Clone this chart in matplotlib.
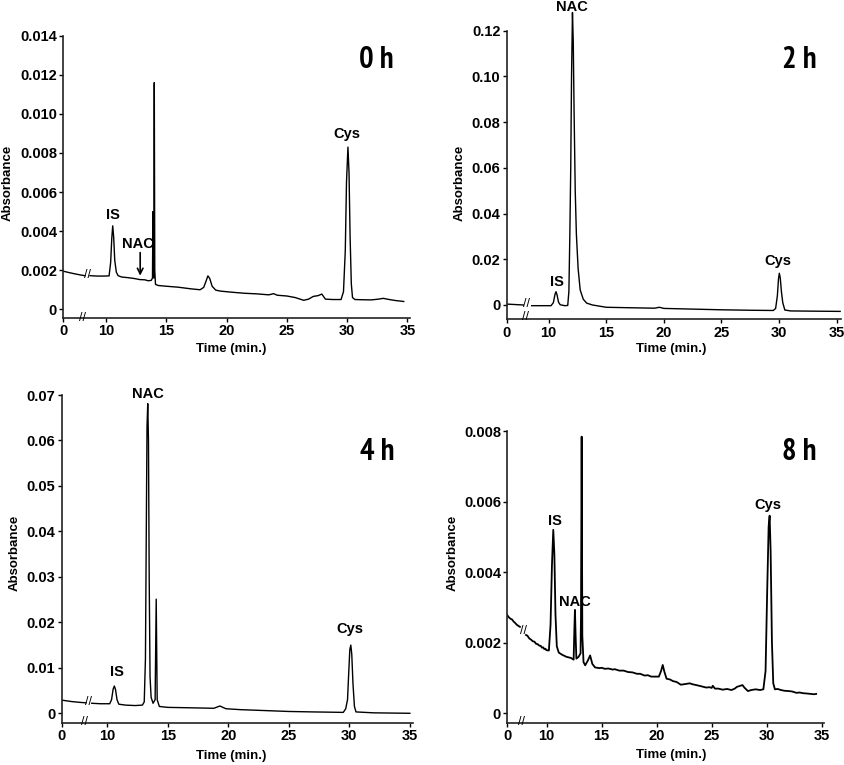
import numpy as np
import matplotlib
matplotlib.use('Agg')
import matplotlib.pyplot as plt
from matplotlib import font_manager
from matplotlib.ticker import NullLocator

nan = np.nan
W, H = 845, 765

# --- chromatogram traces (time in min, absorbance), nan = axis break ---
time_0h = [0, 1.5, 3.0, 4.2, 5.07, nan, 6.25, 8.0, 9.5, 10.25,
           10.38, 10.47, 10.55, 10.63, 10.72, 10.85, 11.0, 11.3, 11.8, 12.3,
           12.8, 13.2, 13.5, 13.75, 13.85, 13.89, 13.93, 13.96, 14.0, 14.04,
           14.1, 14.3, 15.0, 16.0, 17.0, 17.8, 18.1, 18.3, 18.45, 18.6,
           18.8, 19.1, 19.5, 20.5, 21.5, 22.5, 23.5, 23.9, 24.2, 25.0,
           25.7, 26.4, 26.8, 27.2, 27.6, 27.9, 28.2, 28.8, 29.5, 29.7,
           29.85, 29.95, 30.07, 30.16, 30.25, 30.35, 30.45, 30.65, 31.2, 32.0,
           32.6, 33.0, 33.5, 34.0, 34.7]
abs_0h = [0.00195, 0.00187, 0.00180, 0.00175, 0.00172, nan, 0.00172, 0.00170, 0.00170, 0.00171,
          0.0024, 0.0036, 0.00427, 0.0037, 0.0025, 0.0019, 0.00172, 0.00165, 0.00162, 0.00158,
          0.00152, 0.00151, 0.00146, 0.00148, 0.0016, 0.0050, 0.0030, 0.0016, 0.0116, 0.0020,
          0.00128, 0.00122, 0.00118, 0.00113, 0.00105, 0.00100, 0.00112, 0.00145, 0.00171, 0.00158,
          0.00118, 0.00098, 0.00093, 0.00087, 0.00082, 0.00079, 0.00074, 0.00080, 0.00072, 0.00068,
          0.00060, 0.00046, 0.00052, 0.00066, 0.00070, 0.00078, 0.00052, 0.00050, 0.00050, 0.0009,
          0.0030, 0.0065, 0.0083, 0.0070, 0.0037, 0.0013, 0.0006, 0.00050, 0.00049, 0.00048,
          0.00052, 0.00056, 0.00050, 0.00045, 0.00040]

time_2h = [0, 2.0, 3.97, nan, 5.95, 8.0, 10.2, 10.4, 10.55, 10.63,
           10.72, 10.85, 11.0, 11.4, 11.65, 11.75, 11.83, 11.91, 11.98, 12.06,
           12.13, 12.2, 12.3, 12.4, 12.55, 12.73, 13.0, 13.3, 13.8, 15.0,
           17.0, 19.2, 19.6, 20.0, 22.5, 25.0, 27.5, 29.5, 29.7, 29.85,
           29.95, 30.02, 30.1, 30.2, 30.32, 30.5, 31.0, 33.0, 35.3]
abs_2h = [0.0004, 0.0002, 0.0000, nan, -0.0003, -0.0003, -0.0003, 0.0010, 0.0048, 0.0058,
          0.0045, 0.0012, 0.0001, -0.0003, -0.0002, 0.0060, 0.0300, 0.0600, 0.1000, 0.1280,
          0.1150, 0.0850, 0.0500, 0.0310, 0.0160, 0.0066, 0.0025, 0.0008, 0.0000, -0.0010,
          -0.0012, -0.0014, -0.0010, -0.0015, -0.0018, -0.0021, -0.0023, -0.0024, -0.0015, 0.0040,
          0.0115, 0.0139, 0.0120, 0.0060, 0.0010, -0.0022, -0.0026, -0.0027, -0.0028]

time_4h = [0, 2.0, 4.0, 5.33, nan, 6.58, 8.5, 10.2, 10.35, 10.48,
           10.58, 10.68, 10.8, 10.95, 11.5, 12.3, 12.9, 13.05, 13.15, 13.22,
           13.28, 13.34, 13.40, 13.46, 13.53, 13.62, 13.78, 13.95, 14.04, 14.12,
           14.3, 15.0, 17.0, 18.8, 19.3, 19.8, 21.0, 23.0, 25.0, 27.0,
           29.5, 29.7, 29.85, 29.95, 30.04, 30.12, 30.2, 30.3, 30.42, 30.55,
           32.0, 35.0]
abs_4h = [0.0029, 0.0026, 0.0024, 0.0023, nan, 0.0022, 0.0021, 0.0021, 0.0030, 0.0053,
          0.0060, 0.0052, 0.0030, 0.0020, 0.0018, 0.0017, 0.0018, 0.0025, 0.0120, 0.0400,
          0.0630, 0.0681, 0.0600, 0.0300, 0.0080, 0.0035, 0.0022, 0.0030, 0.0251, 0.0030,
          0.0015, 0.0013, 0.0012, 0.0011, 0.0016, 0.0010, 0.0008, 0.0006, 0.0004, 0.0003,
          0.0002, 0.0010, 0.0030, 0.0090, 0.0140, 0.0150, 0.0130, 0.0065, 0.0015, 0.0003,
          0.0001, 0.0000]

time_8h = [0, 0.4, 0.8, 1.2, 1.6, 2.0, 2.4, 2.8, 3.21, nan,
           4.75, 5.1, 5.6, 6.0, 6.5, 6.9, 7.3, 7.7, 8.1, 8.5,
           8.8, 9.1, 9.4, 9.7, 9.9, 10.2, 10.35, 10.48, 10.6, 10.7,
           10.8, 10.92, 11.1, 11.4, 11.8, 12.2, 12.45, 12.52, 12.57, 12.63,
           12.7, 12.9, 13.08, 13.12, 13.18, 13.24, 13.35, 13.5, 13.75, 13.95,
           14.15, 14.4, 14.8, 15.0, 15.3, 15.6, 16.0, 16.2, 16.6, 17.0,
           17.4, 17.8, 18.2, 18.5, 18.9, 19.2, 19.5, 19.8, 20.2, 20.4,
           20.55, 20.7, 20.9, 21.2, 21.5, 21.8, 22.2, 22.6, 23.0, 23.3,
           23.6, 24.0, 24.5, 24.8, 25.0, 25.1, 25.3, 25.6, 26.0, 26.4,
           26.8, 27.1, 27.3, 27.6, 27.8, 28.0, 28.3, 28.6, 29.0, 29.4,
           29.7, 29.9, 30.05, 30.18, 30.27, 30.36, 30.48, 30.6, 30.75, 31.0,
           31.3, 31.6, 32.0, 32.3, 32.7, 33.0, 33.3, 33.7, 34.0, 34.3,
           34.5]
abs_8h = [0.00278, 0.00272, 0.00268, 0.00266, 0.00260, 0.00256, 0.00251, 0.00248, 0.00245, nan,
          0.00222, 0.00220, 0.00212, 0.00209, 0.00204, 0.00203, 0.00197, 0.00196, 0.00192, 0.00191,
          0.00186, 0.00187, 0.00182, 0.00183, 0.00179, 0.00178, 0.0025, 0.0042, 0.0052, 0.0045,
          0.0028, 0.0019, 0.00172, 0.00166, 0.00160, 0.00157, 0.00152, 0.0024, 0.00293, 0.0022,
          0.00155, 0.00160, 0.0017, 0.0028, 0.00784, 0.0022, 0.00145, 0.00136, 0.00150, 0.00164,
          0.00140, 0.00130, 0.00128, 0.00129, 0.00126, 0.00127, 0.00124, 0.00125, 0.00121, 0.00121,
          0.00117, 0.00116, 0.00112, 0.00112, 0.00107, 0.00108, 0.00104, 0.00104, 0.00104, 0.00120,
          0.00137, 0.00118, 0.00098, 0.00096, 0.00091, 0.00089, 0.00081, 0.00083, 0.00085, 0.00082,
          0.00080, 0.00077, 0.00073, 0.00074, 0.00072, 0.00078, 0.00070, 0.00070, 0.00067, 0.00069,
          0.00066, 0.00070, 0.00075, 0.00078, 0.00080, 0.00072, 0.00063, 0.00066, 0.00068, 0.00066,
          0.00068, 0.0012, 0.0035, 0.0053, 0.0056, 0.0046, 0.0020, 0.00085, 0.00068, 0.00069,
          0.00066, 0.00064, 0.00063, 0.00062, 0.00058, 0.00059, 0.00057, 0.00056, 0.00055, 0.00054,
          0.00055]

x_ticks = [0, 10, 15, 20, 25, 30, 35]
y_ticks_0h = [0, 0.002, 0.004, 0.006, 0.008, 0.010, 0.012, 0.014]
y_labels_0h = ['0', '0.002', '0.004', '0.006', '0.008', '0.010', '0.012', '0.014']
y_ticks_2h = [0, 0.02, 0.04, 0.06, 0.08, 0.10, 0.12]
y_labels_2h = ['0', '0.02', '0.04', '0.06', '0.08', '0.10', '0.12']
y_ticks_4h = [0, 0.01, 0.02, 0.03, 0.04, 0.05, 0.06, 0.07]
y_labels_4h = ['0', '0.01', '0.02', '0.03', '0.04', '0.05', '0.06', '0.07']
y_ticks_8h = [0, 0.002, 0.004, 0.006, 0.008]
y_labels_8h = ['0', '0.002', '0.004', '0.006', '0.008']

plt.rcParams['font.family'] = ['Liberation Sans', 'DejaVu Sans']
plt.rcParams['font.weight'] = 'bold'


def narrow_bold():
    # look for a condensed bold face for the big time labels
    best = None
    for f in font_manager.fontManager.ttflist:
        p = f.fname.lower()
        n = f.name.lower()
        if 'italic' in p or 'oblique' in p:
            continue
        if 'bold' not in p and f.weight not in ('bold', 700):
            continue
        if 'narrow' in n or 'narrow' in p:
            return f.fname
        if ('condensed' in p or f.stretch in ('condensed', 'semi-condensed')) and best is None:
            best = f.fname
    return best


nb = narrow_bold()
big_font = font_manager.FontProperties(fname=nb, size=22) if nb else \
    font_manager.FontProperties(family='Liberation Sans', weight='bold', size=20)


def break_scale(gap):
    # squeeze 0-10 min into `gap` minutes of axis length
    k = gap / 10.0

    def fwd(x):
        x = np.asarray(x, dtype=float)
        return np.where(x < 10, 10 - (10 - x) * k, x)

    def inv(y):
        y = np.asarray(y, dtype=float)
        return np.where(y < 10, 10 - (10 - y) / k, y)
    return fwd, inv


fig = plt.figure(figsize=(W / 100, H / 100), dpi=100)


def ftext(px, py, s, **kw):
    fig.text(px / W, 1 - py / H, s, **kw)


def panel(rect, gap, xmax, ylim, ytop, t, a, yticks, ylabels, lw=1.0):
    l, b, r, tp = rect
    ax = fig.add_axes([l / W, 1 - b / H, (r - l) / W, (b - tp) / H])
    ax.set_xscale('function', functions=break_scale(gap))
    ax.plot(t, a, color='black', lw=lw)
    ax.set_xlim(0, xmax)
    ax.set_ylim(*ylim)
    for s in ['top', 'right']:
        ax.spines[s].set_visible(False)
    for s in ['left', 'bottom']:
        ax.spines[s].set_linewidth(1.2)
        ax.spines[s].set_color('#222222')
    ax.spines['left'].set_bounds(ylim[0], ytop)
    ax.set_xticks(x_ticks)
    ax.set_xticklabels([str(v) for v in x_ticks])
    ax.set_yticks(yticks)
    ax.set_yticklabels(ylabels)
    ax.xaxis.set_minor_locator(NullLocator())
    ax.yaxis.set_minor_locator(NullLocator())
    ax.tick_params(axis='both', length=3, width=1, labelsize=10.5, pad=1.5)
    ax.patch.set_alpha(0)
    return ax


ax1 = panel((63.3, 317.7, 410, 35.7), 3.55, 35.22, (-0.00043, 0.014), 0.014,
            time_0h, abs_0h, y_ticks_0h, y_labels_0h)
ax2 = panel((506.7, 319.3, 840.7, 10), 3.65, 35.35, (-0.00626, 0.1291), 0.12,
            time_2h, abs_2h, y_ticks_2h, y_labels_2h)
ax3 = panel((61.7, 722.7, 413, 395), 3.77, 35.26, (-0.00207, 0.07), 0.07,
            time_4h, abs_4h, y_ticks_4h, y_labels_4h)
ax4 = panel((507.3, 722.7, 824.3, 431), 3.58, 35.24, (-0.000266, 0.008), 0.008,
            time_8h, abs_8h, y_ticks_8h, y_labels_8h, lw=1.3)

# NAC arrow in the 0 h run
ax1.annotate('', xy=(12.83, 0.00172), xytext=(12.83, 0.0029),
             arrowprops=dict(arrowstyle='->', lw=1.2, color='black',
                             shrinkA=0, shrinkB=0))

for px, py, s in [(394, 60, '0 h'), (816.7, 60, '2 h'),
                  (394.3, 451.7, '4 h'), (816.7, 451.7, '8 h')]:
    ftext(px, py, s, fontproperties=big_font, ha='right', va='center')

pk = dict(fontsize=10.5, fontweight='bold', ha='center', va='center')
for px, py, s in [(347, 134, 'Cys'), (113, 215, 'IS'), (138, 244, 'NAC'),
                  (571.7, 7, 'NAC'), (556.7, 281.7, 'IS'), (778.3, 261, 'Cys'),
                  (148.3, 394, 'NAC'), (116.7, 671.7, 'IS'), (350, 629.3, 'Cys'),
                  (555, 520.7, 'IS'), (575, 601.7, 'NAC'), (768.3, 505, 'Cys')]:
    ftext(px, py, s, **pk)

lab = dict(fontsize=9.5, fontweight='bold', ha='center', va='center')
for px, py in [(7.5, 182.7), (460, 182.7), (15, 552.7), (452.3, 552.7)]:
    ftext(px, py, 'Absorbance', rotation=90, **lab)
for px, py in [(230.7, 349), (670.7, 349), (230.7, 756), (670.7, 755)]:
    ftext(px, py, 'Time (min.)', **lab)

# axis-break marks on trace and on x axis
brk = dict(fontsize=9, fontweight='normal', ha='center', va='center')
for px, py in [(87.5, 275.3), (83, 317.7), (527, 303.7), (526, 317),
               (88.7, 702), (85, 721.7), (523.3, 631), (521.7, 722)]:
    ftext(px, py, '//', **brk)

fig.savefig('out.png', dpi=100)
